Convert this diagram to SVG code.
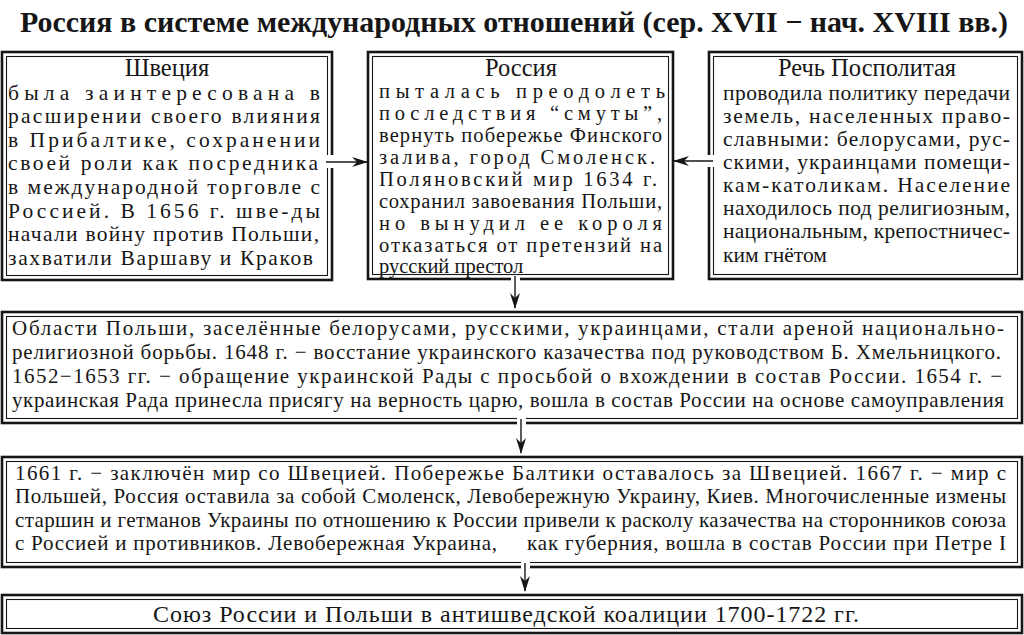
<svg xmlns="http://www.w3.org/2000/svg" width="1024" height="635" viewBox="0 0 1024 635">
<style>
  text { font-family: "Liberation Serif", "Times New Roman", "DejaVu Serif", serif; fill: #161616; }
  .title { font-size: 30px; font-weight: bold; }
  .h { font-size: 24.5px; text-anchor: middle; }
  .t { font-size: 21.5px; }
  .r { font-size: 20.5px; }
  .w { font-size: 21px; }
  .b { font-size: 24px; }
  .outer { fill: #fff; stroke: #161616; stroke-width: 2.6; }
  .inner { fill: none; stroke: #161616; stroke-width: 1.1; }
  .con { stroke: #161616; stroke-width: 1.4; fill: none; }
  .gap { fill: #fff; stroke: none; }
</style>
<defs>
  <marker id="ah" viewBox="0 0 16 11" refX="15" refY="5.5" markerWidth="16" markerHeight="11" markerUnits="userSpaceOnUse" orient="auto">
    <path d="M0,0.5 L5,5.5 L0,10.5 L16,5.5 Z" fill="#161616"/>
  </marker>
</defs>
<rect width="1024" height="635" fill="#fff"/>

<text class="title" x="20" y="32" textLength="988" lengthAdjust="spacingAndGlyphs">Россия в системе международных отношений (сер. XVII − нач. XVIII вв.)</text>

<g id="node-sweden">
  <rect class="outer" x="2" y="52" width="330" height="228"/>
  <rect class="inner" x="6.5" y="56.5" width="321" height="219"/>
  <text class="h" x="167" y="76">Швеция</text>
  <text class="t" x="8" y="100" textLength="312" lengthAdjust="spacing">была заинтересована в</text>
  <text class="t" x="8" y="123" textLength="312" lengthAdjust="spacing">расширении своего влияния</text>
  <text class="t" x="8" y="147" textLength="312" lengthAdjust="spacing">в Прибалтике, сохранении</text>
  <text class="t" x="8" y="170" textLength="310" lengthAdjust="spacing">своей роли  как посредника</text>
  <text class="t" x="8" y="194" textLength="312" lengthAdjust="spacing">в международной торговле с</text>
  <text class="t" x="8" y="218" textLength="312" lengthAdjust="spacing">Россией. В 1656 г. шве-ды</text>
  <text class="t" x="8" y="241" textLength="311" lengthAdjust="spacing">начали войну против Польши,</text>
  <text class="t" x="8" y="265" textLength="305" lengthAdjust="spacing">захватили Варшаву и Краков</text>
</g>

<g id="node-russia">
  <rect class="outer" x="368" y="52" width="305" height="227"/>
  <rect class="inner" x="372.5" y="56.5" width="296" height="218"/>
  <text class="h" x="521" y="76">Россия</text>
  <text class="r" x="379" y="98" textLength="286" lengthAdjust="spacing">пыталась преодолеть</text>
  <text class="r" x="379" y="120" textLength="283" lengthAdjust="spacing">последствия “смуты”,</text>
  <text class="r" x="379" y="142" textLength="283" lengthAdjust="spacing">вернуть побережье Финского</text>
  <text class="r" x="379" y="164" textLength="276" lengthAdjust="spacing">залива, город Смоленск.</text>
  <text class="r" x="379" y="186" textLength="278" lengthAdjust="spacing">Поляновский мир 1634 г.</text>
  <text class="r" x="379" y="208" textLength="283" lengthAdjust="spacing">сохранил завоевания Польши,</text>
  <text class="r" x="379" y="230" textLength="283" lengthAdjust="spacing">но вынудил ее короля</text>
  <text class="r" x="379" y="252" textLength="283" lengthAdjust="spacing">отказаться от претензий на</text>
  <text class="r" x="379" y="273">русский престол</text>
</g>

<g id="node-rzeczpospolita">
  <rect class="outer" x="709" y="52" width="313" height="227"/>
  <rect class="inner" x="713.5" y="56.5" width="304" height="218"/>
  <text class="h" x="867" y="76">Речь Посполитая</text>
  <text class="t" x="723" y="100" textLength="287" lengthAdjust="spacing">проводила политику передачи</text>
  <text class="t" x="723" y="123" textLength="287" lengthAdjust="spacing">земель, населенных право-</text>
  <text class="t" x="723" y="146" textLength="287" lengthAdjust="spacing">славными: белорусами, рус-</text>
  <text class="t" x="723" y="169" textLength="287" lengthAdjust="spacing">скими, украинцами помещи-</text>
  <text class="t" x="723" y="192" textLength="287" lengthAdjust="spacing">кам-католикам.  Население</text>
  <text class="t" x="723" y="215" textLength="287" lengthAdjust="spacing">находилось под религиозным,</text>
  <text class="t" x="723" y="238" textLength="287" lengthAdjust="spacing">национальным, крепостничес-</text>
  <text class="t" x="723" y="262">ким гнётом</text>
</g>

<g id="node-regions">
  <rect class="outer" x="2" y="312" width="1020" height="111"/>
  <rect class="inner" x="6.5" y="316.5" width="1011" height="102"/>
  <text class="w" x="12" y="335" textLength="992" lengthAdjust="spacing">Области Польши, заселённые белорусами, русскими, украинцами, стали ареной национально-</text>
  <text class="w" x="12" y="359" textLength="989" lengthAdjust="spacing">религиозной борьбы. 1648 г. − восстание украинского казачества под руководством Б. Хмельницкого.</text>
  <text class="w" x="12" y="383" textLength="990" lengthAdjust="spacing">1652−1653 гг. − обращение украинской Рады с просьбой о вхождении в состав России. 1654 г. −</text>
  <text class="w" x="12" y="407" textLength="992" lengthAdjust="spacing">украинская Рада  принесла присягу на верность царю, вошла в состав России на основе самоуправления</text>
</g>

<g id="node-peace">
  <rect class="outer" x="2" y="457" width="1020" height="110"/>
  <rect class="inner" x="6.5" y="461.5" width="1011" height="101"/>
  <text class="w" x="15" y="480" textLength="991" lengthAdjust="spacing">1661 г. − заключён мир со Швецией. Побережье Балтики оставалось за Швецией. 1667 г. − мир с</text>
  <text class="w" x="15" y="503" textLength="991" lengthAdjust="spacing">Польшей, Россия оставила за собой Смоленск, Левобережную Украину, Киев. Многочисленные измены</text>
  <text class="w" x="15" y="527" textLength="991" lengthAdjust="spacing">старшин и гетманов Украины по отношению к России привели к расколу казачества на сторонников союза</text>
  <text class="w" x="15" y="550" textLength="482" lengthAdjust="spacing">с Россией и противников.  Левобережная Украина,</text>
  <text class="w" x="527" y="550" textLength="479" lengthAdjust="spacing">как губерния, вошла в состав России  при Петре I</text>
</g>

<g id="node-union">
  <rect class="outer" x="2" y="595" width="1020" height="38"/>
  <rect class="inner" x="6.5" y="599.5" width="1011" height="29"/>
  <text class="b" x="153" y="622" textLength="706" lengthAdjust="spacing">Союз России и Польши в антишведской коалиции 1700-1722 гг.</text>
</g>

<g id="connectors">
  <rect class="gap" x="324" y="155" width="10" height="13"/>
  <path class="con" d="M326,162 H367" marker-end="url(#ah)"/>
  <rect class="gap" x="707" y="155" width="10" height="12"/>
  <path class="con" d="M713,161 H674" marker-end="url(#ah)"/>
  <rect class="gap" x="511" y="276" width="9" height="5"/>
  <path class="con" d="M515,276 V308" marker-end="url(#ah)"/>
  <rect class="gap" x="517" y="417" width="9" height="8"/>
  <path class="con" d="M521,419 V453" marker-end="url(#ah)"/>
  <rect class="gap" x="521" y="561" width="9" height="8"/>
  <path class="con" d="M525,563 V591" marker-end="url(#ah)"/>
</g>
</svg>
